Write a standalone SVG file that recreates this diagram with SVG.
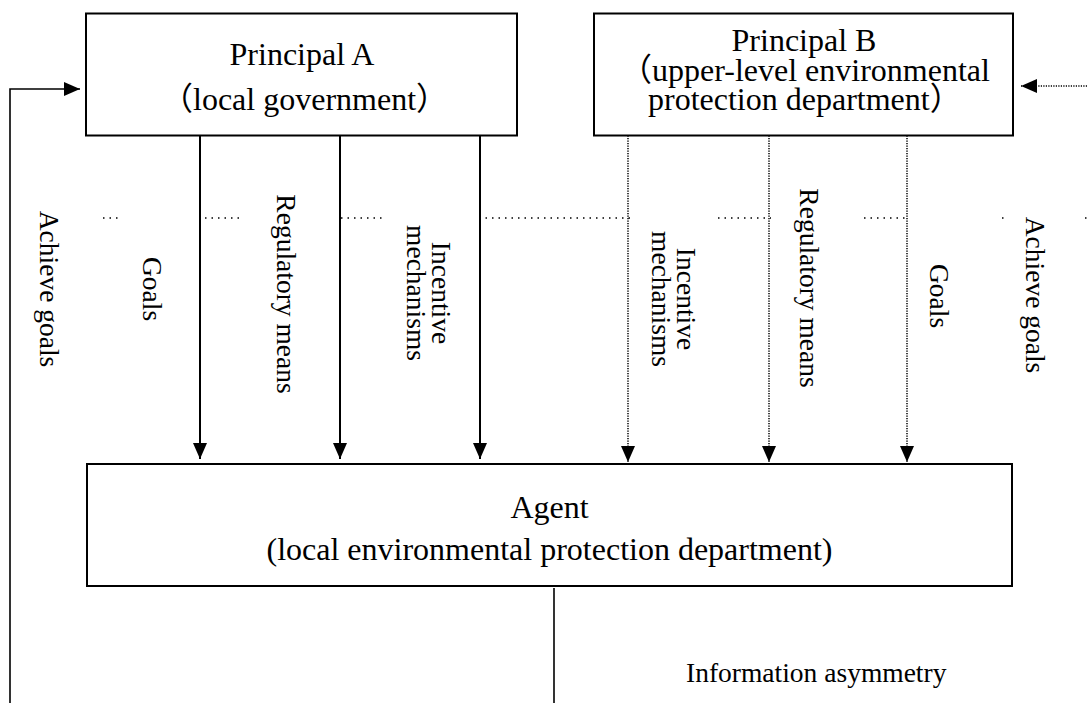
<svg xmlns="http://www.w3.org/2000/svg" width="1087" height="703" viewBox="0 0 1087 703">
  <style>
    .box { fill: #fff; stroke: #000; stroke-width: 2; }
    .t { font-family: "Liberation Serif", "Noto Sans CJK SC", serif; fill: #000; }
    .big { font-size: 32px; }
    .lbl { font-size: 27.5px; }
    .solid { fill: none; stroke: #000; stroke-width: 2; }
    .thin { fill: none; stroke: #000; stroke-width: 1.6; }
    .dots { fill: none; stroke: #000; stroke-width: 1.5; stroke-dasharray: 1.2 1.3; }
    .sparse { fill: none; stroke: #000; stroke-width: 1.5; stroke-dasharray: 1.5 5; }
  </style>
  <defs>
    <marker id="head" viewBox="0 0 16 14" refX="16" refY="7" markerWidth="16" markerHeight="14" markerUnits="userSpaceOnUse" orient="auto">
      <path d="M0,0 L16,7 L0,14 Z" fill="#000"/>
    </marker>
  </defs>

  <rect width="1087" height="703" fill="#fff"/>

  <!-- principal A -->
  <g id="principal-a">
    <rect class="box" x="86" y="13.5" width="431" height="122"/>
    <text class="t big" x="302" y="65" text-anchor="middle">Principal A</text>
    <text class="t big" x="161" y="110">（local government）</text>
  </g>

  <!-- principal B -->
  <g id="principal-b">
    <rect class="box" x="594" y="13.5" width="419" height="122"/>
    <text class="t big" x="804" y="51" text-anchor="middle">Principal B</text>
    <text class="t big" x="620" y="81">（upper-level environmental</text>
    <text class="t big" x="648" y="110">protection department）</text>
  </g>

  <!-- agent -->
  <g id="agent">
    <rect class="box" x="87" y="464" width="925" height="122"/>
    <text class="t big" x="549.5" y="518" text-anchor="middle">Agent</text>
    <text class="t big" x="549.5" y="560" text-anchor="middle">(local environmental protection department)</text>
  </g>

  <!-- connectors -->
  <g id="connectors">
    <!-- principal A to agent -->
    <path class="solid" d="M200,135.5 V459" marker-end="url(#head)"/>
    <path class="solid" d="M340,135.5 V459" marker-end="url(#head)"/>
    <path class="solid" d="M480,135.5 V459" marker-end="url(#head)"/>
    <!-- principal B to agent -->
    <path class="dots" d="M628,135.5 V462" marker-end="url(#head)"/>
    <path class="dots" d="M769,135.5 V462" marker-end="url(#head)"/>
    <path class="dots" d="M907,135.5 V462" marker-end="url(#head)"/>
    <!-- feedback to principal A -->
    <path class="thin" d="M10,703 V89 H80" marker-end="url(#head)"/>
    <!-- feedback to principal B -->
    <path class="dots" d="M1087,86 H1021" marker-end="url(#head)"/>
    <!-- information asymmetry divider -->
    <path class="thin" d="M554,588 V703"/>
    <!-- dotted guide line across the labels -->
    <path class="sparse" d="M103,218 H119 M205,218 H239 M341,218 H385 M479,218 H630 M718,218 H771 M864,218 H907 M1002,218 H1004 M1085,218 H1087"/>
  </g>

  <!-- connector labels -->
  <g id="labels">
    <text class="t lbl" text-anchor="middle" transform="translate(40,289) rotate(90)">Achieve goals</text>
    <text class="t lbl" text-anchor="middle" transform="translate(143,289) rotate(90)">Goals</text>
    <text class="t lbl" text-anchor="middle" transform="translate(277,294) rotate(90)">Regulatory means</text>
    <text class="t lbl" text-anchor="middle" transform="translate(432,293) rotate(90)">Incentive</text>
    <text class="t lbl" text-anchor="middle" transform="translate(407,293) rotate(90)">mechanisms</text>
    <text class="t lbl" text-anchor="middle" transform="translate(677,299) rotate(90)">Incentive</text>
    <text class="t lbl" text-anchor="middle" transform="translate(652,299) rotate(90)">mechanisms</text>
    <text class="t lbl" text-anchor="middle" transform="translate(800,288) rotate(90)">Regulatory means</text>
    <text class="t lbl" text-anchor="middle" transform="translate(930,296) rotate(90)">Goals</text>
    <text class="t lbl" text-anchor="middle" transform="translate(1026,295) rotate(90)">Achieve goals</text>
    <text class="t lbl" x="686" y="682">Information asymmetry</text>
  </g>
</svg>
